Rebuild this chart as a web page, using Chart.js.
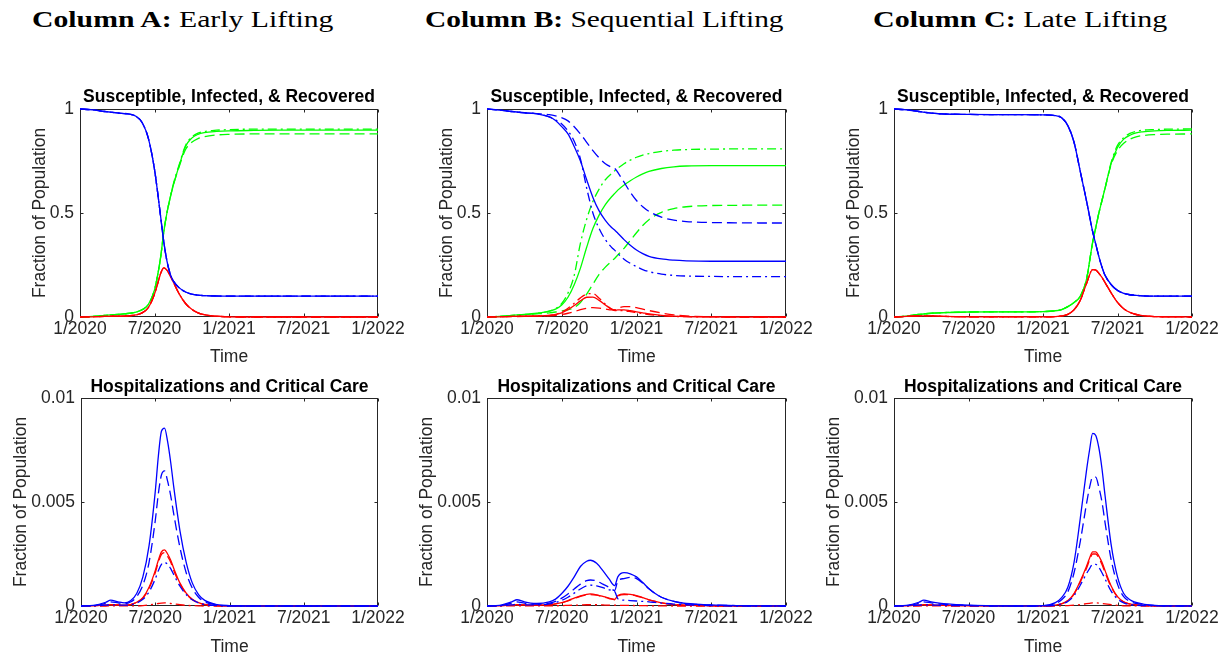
<!DOCTYPE html>
<html>
<head>
<meta charset="utf-8">
<script src="https://cdn.jsdelivr.net/npm/chart.js@4.4.0/dist/chart.umd.min.js"></script>
<style>
body { margin: 0; background: #fff; width: 1227px; height: 659px; overflow: hidden; position: relative; }
.hdr { position: absolute; top: 7px; font-family: "Liberation Serif", serif; font-size: 24px; line-height: 24px;
       white-space: nowrap; transform-origin: 0 0; color: #000; }
canvas { position: absolute; }
</style>
</head>
<body>
<div class="hdr" id="hA" style="left:32px" data-w="301"><b>Column A:</b> Early Lifting</div>
<div class="hdr" id="hB" style="left:425px" data-w="359"><b>Column B:</b> Sequential Lifting</div>
<div class="hdr" id="hC" style="left:873px" data-w="294"><b>Column C:</b> Late Lifting</div>

<canvas id="sirA" width="410" height="290" style="left:0;top:80px"></canvas>
<canvas id="sirB" width="410" height="290" style="left:410px;top:80px"></canvas>
<canvas id="sirC" width="412" height="290" style="left:815px;top:80px"></canvas>
<canvas id="hospA" width="410" height="289" style="left:0;top:370px"></canvas>
<canvas id="hospB" width="410" height="289" style="left:410px;top:370px"></canvas>
<canvas id="hospC" width="412" height="289" style="left:815px;top:370px"></canvas>

<script>
// x axis: months since 1/2020
const xTickMonths = [0, 6, 12, 18, 24];
const xTickLabels = ["1/2020", "7/2020", "1/2021", "7/2021", "1/2022"];
const sirTicks = [0, 0.5, 1];
const sirTickLabels = ["0", "0.5", "1"];
const hospTicks = [0, 0.005, 0.01];
const hospTickLabels = ["0", "0.005", "0.01"];

// ---- Column A, SIR
const tSirA = [0,1,2,3,4,4.5,5,5.5,6,6.25,6.5,6.75,7,7.25,7.5,8,8.5,9,9.5,10,11,12,14,16,18,20,22,24];
const susA = [1,0.996,0.988,0.981,0.975,0.965,0.935,0.86,0.71,0.6,0.48,0.36,0.27,0.21,0.175,0.14,0.12,0.11,0.105,0.103,0.101,0.1,0.1,0.1,0.1,0.1,0.1,0.1];
const infA = [0,0.001,0.003,0.004,0.006,0.01,0.02,0.045,0.11,0.16,0.21,0.236,0.225,0.2,0.17,0.11,0.065,0.037,0.02,0.011,0.004,0.001,0,0,0,0,0,0];
const recA = [0,0.003,0.008,0.012,0.018,0.024,0.035,0.06,0.13,0.2,0.29,0.41,0.5,0.57,0.63,0.73,0.82,0.86,0.878,0.886,0.892,0.895,0.897,0.898,0.898,0.898,0.898,0.898];
const recA_dash = [0,0.003,0.008,0.012,0.018,0.024,0.035,0.06,0.13,0.2,0.29,0.41,0.5,0.57,0.63,0.725,0.805,0.84,0.858,0.867,0.875,0.878,0.88,0.88,0.88,0.88,0.88,0.88];
const recA_dot = [0,0.003,0.008,0.012,0.018,0.024,0.035,0.06,0.13,0.2,0.29,0.41,0.5,0.57,0.635,0.735,0.825,0.865,0.884,0.892,0.898,0.901,0.903,0.903,0.903,0.903,0.903,0.903];

// ---- Column B, SIR
const tSirB = [0,1,2,3,4,5,5.5,6,6.5,7,7.5,8,8.5,9,9.5,10,10.3,10.5,11,11.5,12,12.5,13,14,15,16,18,20,22,24];
const susB = [1,0.995,0.988,0.982,0.977,0.962,0.945,0.915,0.88,0.82,0.75,0.66,0.575,0.51,0.465,0.43,0.415,0.403,0.372,0.345,0.322,0.305,0.292,0.279,0.273,0.27,0.268,0.268,0.268,0.268];
const susB_dash = [1,0.995,0.988,0.982,0.978,0.973,0.967,0.958,0.943,0.915,0.88,0.84,0.8,0.765,0.737,0.72,0.712,0.695,0.648,0.6,0.56,0.53,0.508,0.48,0.466,0.459,0.454,0.453,0.452,0.452];
const susB_dot = [1,0.995,0.988,0.982,0.977,0.962,0.948,0.928,0.895,0.845,0.76,0.62,0.5,0.425,0.372,0.335,0.318,0.305,0.278,0.258,0.242,0.228,0.218,0.206,0.2,0.197,0.195,0.194,0.194,0.194];
const infB = [0,0.001,0.003,0.004,0.005,0.008,0.012,0.02,0.035,0.055,0.078,0.095,0.096,0.08,0.058,0.038,0.033,0.034,0.034,0.03,0.025,0.02,0.015,0.008,0.004,0.002,0.0005,0,0,0];
const infB_dash = [0,0.001,0.002,0.003,0.004,0.006,0.008,0.012,0.018,0.026,0.035,0.042,0.045,0.043,0.038,0.034,0.035,0.042,0.05,0.05,0.045,0.038,0.031,0.019,0.01,0.005,0.001,0,0,0];
const infB_dot = [0,0.001,0.003,0.004,0.005,0.008,0.013,0.024,0.042,0.066,0.092,0.11,0.113,0.09,0.062,0.038,0.031,0.031,0.03,0.026,0.021,0.016,0.012,0.006,0.003,0.0015,0.0003,0,0,0];
const recB = [0,0.003,0.008,0.012,0.018,0.028,0.038,0.058,0.095,0.155,0.235,0.335,0.425,0.49,0.54,0.578,0.597,0.61,0.635,0.655,0.673,0.688,0.7,0.714,0.722,0.726,0.728,0.728,0.728,0.728];
const recB_dash = [0,0.003,0.007,0.011,0.015,0.02,0.024,0.029,0.035,0.045,0.07,0.11,0.158,0.205,0.24,0.268,0.285,0.298,0.33,0.368,0.405,0.44,0.468,0.503,0.521,0.53,0.536,0.537,0.538,0.538];
const recB_dot = [0,0.003,0.008,0.012,0.018,0.028,0.04,0.065,0.115,0.2,0.355,0.47,0.555,0.615,0.66,0.69,0.705,0.715,0.737,0.754,0.768,0.778,0.786,0.796,0.802,0.805,0.807,0.808,0.808,0.808];

// ---- Column C, SIR
const tSirC = [0,1,2,3,4,6,8,10,12,13,13.5,14,14.5,15,15.5,16,16.25,16.5,16.75,17,17.5,18,18.5,19,19.5,20,21,22,24];
const susC = [1,0.996,0.988,0.98,0.976,0.974,0.973,0.973,0.972,0.968,0.958,0.92,0.84,0.7,0.56,0.41,0.35,0.29,0.24,0.2,0.155,0.128,0.114,0.107,0.104,0.102,0.1,0.1,0.1];
const infC = [0,0.003,0.005,0.005,0.003,0.001,0.0005,0.0003,0.0005,0.002,0.005,0.013,0.035,0.08,0.16,0.228,0.226,0.21,0.19,0.165,0.115,0.07,0.04,0.022,0.012,0.007,0.002,0.001,0];
const recC = [0,0.004,0.012,0.018,0.021,0.024,0.025,0.025,0.026,0.03,0.036,0.05,0.07,0.1,0.18,0.36,0.43,0.5,0.56,0.62,0.74,0.815,0.855,0.874,0.885,0.89,0.895,0.897,0.898];
const recC_dash = [0,0.004,0.012,0.018,0.021,0.024,0.025,0.025,0.026,0.03,0.036,0.05,0.07,0.1,0.18,0.36,0.43,0.5,0.56,0.62,0.735,0.8,0.835,0.855,0.866,0.872,0.877,0.879,0.88];
const recC_dot = [0,0.004,0.012,0.018,0.021,0.024,0.025,0.025,0.026,0.03,0.036,0.05,0.07,0.1,0.18,0.36,0.43,0.5,0.56,0.62,0.745,0.825,0.862,0.883,0.893,0.898,0.901,0.903,0.904];

// ---- Column A, hospital (blue) and critical care (red)
const tHospA = [0,1,2,2.4,3,3.5,4,4.5,5,5.5,6,6.25,6.5,6.75,7,7.25,7.5,8,8.5,9,9.5,10,11,12,14,18,24];
const hospA = [0,0.00003,0.00018,0.00028,0.0002,0.00015,0.00025,0.0006,0.0014,0.0029,0.0055,0.0072,0.0084,0.00855,0.0079,0.0069,0.0057,0.0036,0.0021,0.0011,0.00055,0.00027,0.00007,0.00002,0,0,0];
const hospA_dash = [0,0.00002,0.00013,0.0002,0.00015,0.00011,0.00019,0.00045,0.001,0.0021,0.0041,0.0054,0.0063,0.0065,0.006,0.0053,0.0044,0.0028,0.0016,0.00085,0.00042,0.0002,0.00005,0.00001,0,0,0];
const hospA_dot = [0,0.00001,0.00004,0.00006,0.00005,0.00004,0.00006,0.00014,0.00032,0.00068,0.0013,0.0017,0.002,0.0021,0.002,0.0018,0.0015,0.00095,0.00055,0.0003,0.00015,0.00007,0.00002,0,0,0,0];
const critA = [0,0.00001,0.00004,0.00006,0.00005,0.00004,0.00007,0.00018,0.0004,0.0009,0.0017,0.0022,0.0026,0.0027,0.0025,0.0022,0.0018,0.0011,0.00062,0.00032,0.00016,0.00008,0.00002,0,0,0,0];
const critA_dash = [0,0.00001,0.00004,0.00006,0.00005,0.00004,0.00007,0.00017,0.00038,0.00085,0.0016,0.0021,0.00248,0.00257,0.00238,0.0021,0.0017,0.00105,0.00059,0.0003,0.00015,0.00007,0.00002,0,0,0,0];
const critA_dot = [0,0,0,0.00001,0.00001,0.00001,0.00001,0.00001,0.00002,0.00005,0.0001,0.00012,0.00014,0.00015,0.00014,0.00012,0.0001,0.00006,0.00003,0.00002,0.00001,0,0,0,0,0,0];

// ---- Column B, hospital and critical care
const tHospB = [0,1,2,2.4,3,3.5,4,5,5.5,6,6.5,7,7.5,8,8.3,8.8,9.3,9.8,10.25,10.5,11,11.5,12,12.5,13,13.5,14,15,16,18,20,24];
const hospB = [0,0.00003,0.0002,0.0003,0.0002,0.00014,0.00012,0.0002,0.00033,0.0006,0.00095,0.0014,0.0019,0.00215,0.0022,0.00205,0.0017,0.0013,0.00098,0.0014,0.0016,0.00155,0.0014,0.00113,0.00083,0.0006,0.00042,0.00022,0.00012,0.00005,0.00002,0];
const hospB_dash = [0,0.00002,0.00014,0.0002,0.00014,0.0001,0.00009,0.00014,0.00022,0.00038,0.00058,0.00082,0.00105,0.00122,0.00125,0.0012,0.00105,0.0009,0.00075,0.0012,0.00132,0.00138,0.00132,0.0011,0.00083,0.0006,0.00042,0.00022,0.00012,0.00005,0.00002,0];
const hospB_dot = [0,0.00001,0.00005,0.00008,0.00006,0.00005,0.00005,0.0001,0.00016,0.00027,0.00042,0.00062,0.00082,0.00097,0.001,0.00097,0.00088,0.00078,0.0007,0.00035,0.00028,0.00026,0.00024,0.00022,0.0002,0.00017,0.00014,0.00009,0.00006,0.00002,0,0];
const critB = [0,0.00001,0.00004,0.00006,0.00005,0.00004,0.00004,0.00006,0.0001,0.00016,0.00026,0.00038,0.00049,0.00056,0.00058,0.00054,0.00046,0.00038,0.00032,0.0005,0.00058,0.00056,0.0005,0.0004,0.0003,0.00022,0.00015,0.00007,0.00004,0.00001,0,0];
const critB_dash = [0,0.00001,0.00004,0.00006,0.00005,0.00004,0.00004,0.00006,0.0001,0.00015,0.00024,0.00036,0.00046,0.00053,0.00055,0.00052,0.00044,0.00036,0.0003,0.00047,0.00055,0.00054,0.00048,0.00039,0.0003,0.00022,0.00015,0.00007,0.00004,0.00001,0,0];
const critB_dot = [0,0,0.00001,0.00001,0.00001,0.00001,0.00001,0.00001,0.00001,0.00002,0.00003,0.00004,0.00005,0.00006,0.00006,0.00006,0.00005,0.00004,0.00004,0.00003,0.00003,0.00003,0.00002,0.00002,0.00001,0.00001,0.00001,0,0,0,0,0];

// ---- Column C, hospital and critical care
const tHospC = [0,1,2,2.4,3,3.5,4,5,6,8,10,12,13,13.5,14,14.5,15,15.5,15.75,16,16.25,16.5,16.75,17,17.5,18,18.5,19,20,21,22,24];
const hospC = [0,0.00003,0.00018,0.00028,0.0002,0.00015,0.00011,0.00007,0.00004,0.00001,0,0.00002,0.00016,0.0004,0.0009,0.0021,0.0042,0.0065,0.0075,0.0083,0.0082,0.0076,0.0066,0.0053,0.0029,0.0014,0.0006,0.0003,0.0001,0.00003,0.00001,0];
const hospC_dash = [0,0.00002,0.00013,0.0002,0.00015,0.00011,0.00008,0.00005,0.00003,0.00001,0,0.00001,0.00012,0.0003,0.00068,0.0016,0.0031,0.0049,0.0057,0.0062,0.0062,0.0057,0.005,0.004,0.0022,0.00105,0.00045,0.00022,0.00008,0.00002,0.00001,0];
const hospC_dot = [0,0.00001,0.00004,0.00006,0.00005,0.00004,0.00003,0.00002,0.00001,0,0,0,0.00004,0.0001,0.00022,0.0005,0.001,0.00155,0.0018,0.002,0.002,0.00185,0.0016,0.0013,0.0007,0.00034,0.00015,0.00007,0.00002,0.00001,0,0];
const critC = [0,0.00001,0.00004,0.00006,0.00005,0.00004,0.00003,0.00002,0.00001,0,0,0,0.00004,0.00011,0.00026,0.0006,0.0012,0.0019,0.0023,0.0026,0.0026,0.0024,0.0021,0.0017,0.00095,0.00045,0.0002,0.0001,0.00003,0.00001,0,0];
const critC_dash = [0,0.00001,0.00004,0.00006,0.00005,0.00004,0.00003,0.00002,0.00001,0,0,0,0.00004,0.0001,0.00025,0.00057,0.00115,0.0018,0.0022,0.0025,0.0025,0.0023,0.002,0.0016,0.0009,0.00043,0.00019,0.00009,0.00003,0.00001,0,0];
const critC_dot = [0,0,0,0.00001,0.00001,0.00001,0,0,0,0,0,0,0,0.00001,0.00002,0.00004,0.00007,0.00011,0.00013,0.00015,0.00015,0.00014,0.00012,0.0001,0.00006,0.00003,0.00001,0.00001,0,0,0,0];

const BLUE = "#0000ff", GREEN = "#00ff00", RED = "#ff0000";
const INK = "#262626";
const SOLID = [], DASH = [10, 5], DASHDOT = [9, 4, 2, 4];
const axisFont = { family: "Liberation Sans", size: 17.5, lineHeight: 1.2 };

// header widths follow the LaTeX text in the figure
document.querySelectorAll(".hdr").forEach(el => {
    const s = parseFloat(el.dataset.w) / el.offsetWidth;
    el.style.transform = `scaleX(${s})`;
});

// box with inward ticks + bold title, MATLAB style
const panelFrame = {
    id: "panelFrame",
    beforeDatasetsDraw(chart) {
        const { ctx, chartArea: a, scales: { x, y } } = chart;
        const L = Math.round(a.left) + 0.5, R = Math.round(a.right) - 0.5;
        const T = Math.round(a.top) + 0.5, B = Math.round(a.bottom) - 0.5;
        ctx.save();
        ctx.strokeStyle = INK;
        ctx.lineWidth = 1;
        ctx.strokeRect(L, T, R - L, B - T);
        ctx.beginPath();
        for (const t of x.ticks) {
            const px = Math.round(x.getPixelForValue(t.value)) + 0.5;
            ctx.moveTo(px, B); ctx.lineTo(px, B - 3);
            ctx.moveTo(px, T); ctx.lineTo(px, T + 3);
        }
        for (const t of y.ticks) {
            const py = Math.round(y.getPixelForValue(t.value)) + 0.5;
            ctx.moveTo(L, py); ctx.lineTo(L + 3, py);
            ctx.moveTo(R, py); ctx.lineTo(R - 3, py);
        }
        ctx.stroke();
        ctx.restore();
    },
    afterDraw(chart, args, opts) {
        const { ctx, chartArea: a } = chart;
        ctx.save();
        ctx.fillStyle = "#000";
        ctx.font = "bold 17.5px 'Liberation Sans'";
        ctx.textAlign = "center";
        ctx.textBaseline = "alphabetic";
        ctx.fillText(opts.text, (a.left + a.right) / 2, opts.baseline);
        ctx.restore();
    }
};

function line(t, v, color, dash) {
    return {
        data: t.map((x, i) => ({ x, y: v[i] })),
        borderColor: color,
        borderWidth: 1.3,
        borderDash: dash,
        pointRadius: 0,
        fill: false,
        cubicInterpolationMode: "monotone",
        clip: 3
    };
}

function makePanel(id, p) {
    new Chart(document.getElementById(id), {
        type: "line",
        data: { datasets: p.series },
        options: {
            responsive: false,
            animation: false,
            events: [],
            layout: { autoPadding: false, padding: { left: 0, right: p.padRight, top: p.padTop, bottom: 0 } },
            plugins: {
                legend: { display: false },
                tooltip: { enabled: false },
                panelFrame: { text: p.title, baseline: p.titleBaseline }
            },
            scales: {
                x: {
                    type: "linear", min: 0, max: 24,
                    grid: { display: false, drawTicks: false },
                    border: { display: false },
                    afterBuildTicks: s => { s.ticks = xTickMonths.map(v => ({ value: v })); },
                    afterFit: s => { s.height = 53; },
                    ticks: {
                        color: INK, font: axisFont, padding: 2, maxRotation: 0, autoSkip: false,
                        callback: (v, i) => xTickLabels[i]
                    },
                    title: { display: true, text: "Time", color: INK, font: axisFont, padding: { top: 0, bottom: p.xTitlePad } }
                },
                y: {
                    type: "linear", min: 0, max: p.yMax,
                    grid: { display: false, drawTicks: false },
                    border: { display: false },
                    afterBuildTicks: s => { s.ticks = p.yTicks.map(v => ({ value: v })); },
                    afterFit: s => { s.width = p.plotLeft; },
                    ticks: {
                        color: INK, font: axisFont, padding: 6, autoSkip: false,
                        callback: (v, i) => p.yLabels[i]
                    },
                    title: {
                        display: true, text: "Fraction of Population", color: INK, font: axisFont,
                        padding: { top: p.plotLeft - p.yTitleGap - 10.5, bottom: 0 }
                    }
                }
            }
        },
        plugins: [panelFrame]
    });
}

const sirTitle = "Susceptible, Infected, & Recovered";
const hospTitle = "Hospitalizations and Critical Care";

function sirPanel(plotLeft, padRight, series) {
    return { series, plotLeft, padRight, padTop: 29, yMax: 1, yTicks: sirTicks, yLabels: sirTickLabels,
             yTitleGap: 40, xTitlePad: 2.8, title: sirTitle, titleBaseline: 22 };
}
function hospPanel(plotLeft, padRight, series) {
    return { series, plotLeft, padRight, padTop: 28, yMax: 0.01, yTicks: hospTicks, yLabels: hospTickLabels,
             yTitleGap: 60, xTitlePad: 1.8, title: hospTitle, titleBaseline: 21.5 };
}

makePanel("sirA", sirPanel(80, 32, [
    line(tSirA, susA, BLUE, DASH), line(tSirA, susA, BLUE, DASHDOT), line(tSirA, susA, BLUE, SOLID),
    line(tSirA, infA, RED, DASH), line(tSirA, infA, RED, DASHDOT), line(tSirA, infA, RED, SOLID),
    line(tSirA, recA_dash, GREEN, DASH), line(tSirA, recA_dot, GREEN, DASHDOT), line(tSirA, recA, GREEN, SOLID)
]));
makePanel("sirB", sirPanel(77, 34, [
    line(tSirB, susB_dash, BLUE, DASH), line(tSirB, susB_dot, BLUE, DASHDOT), line(tSirB, susB, BLUE, SOLID),
    line(tSirB, infB_dash, RED, DASH), line(tSirB, infB_dot, RED, DASHDOT), line(tSirB, infB, RED, SOLID),
    line(tSirB, recB_dash, GREEN, DASH), line(tSirB, recB_dot, GREEN, DASHDOT), line(tSirB, recB, GREEN, SOLID)
]));
makePanel("sirC", sirPanel(79, 35, [
    line(tSirC, susC, BLUE, DASH), line(tSirC, susC, BLUE, DASHDOT), line(tSirC, susC, BLUE, SOLID),
    line(tSirC, infC, RED, DASH), line(tSirC, infC, RED, DASHDOT), line(tSirC, infC, RED, SOLID),
    line(tSirC, recC_dash, GREEN, DASH), line(tSirC, recC_dot, GREEN, DASHDOT), line(tSirC, recC, GREEN, SOLID)
]));
makePanel("hospA", hospPanel(81, 32, [
    line(tHospA, hospA_dash, BLUE, DASH), line(tHospA, hospA_dot, BLUE, DASHDOT), line(tHospA, hospA, BLUE, SOLID),
    line(tHospA, critA_dash, RED, DASH), line(tHospA, critA_dot, RED, DASHDOT), line(tHospA, critA, RED, SOLID)
]));
makePanel("hospB", hospPanel(77, 34, [
    line(tHospB, hospB_dash, BLUE, DASH), line(tHospB, hospB_dot, BLUE, DASHDOT), line(tHospB, hospB, BLUE, SOLID),
    line(tHospB, critB_dash, RED, DASH), line(tHospB, critB_dot, RED, DASHDOT), line(tHospB, critB, RED, SOLID)
]));
makePanel("hospC", hospPanel(79, 35, [
    line(tHospC, hospC_dash, BLUE, DASH), line(tHospC, hospC_dot, BLUE, DASHDOT), line(tHospC, hospC, BLUE, SOLID),
    line(tHospC, critC_dash, RED, DASH), line(tHospC, critC_dot, RED, DASHDOT), line(tHospC, critC, RED, SOLID)
]));
</script>
</body>
</html>
